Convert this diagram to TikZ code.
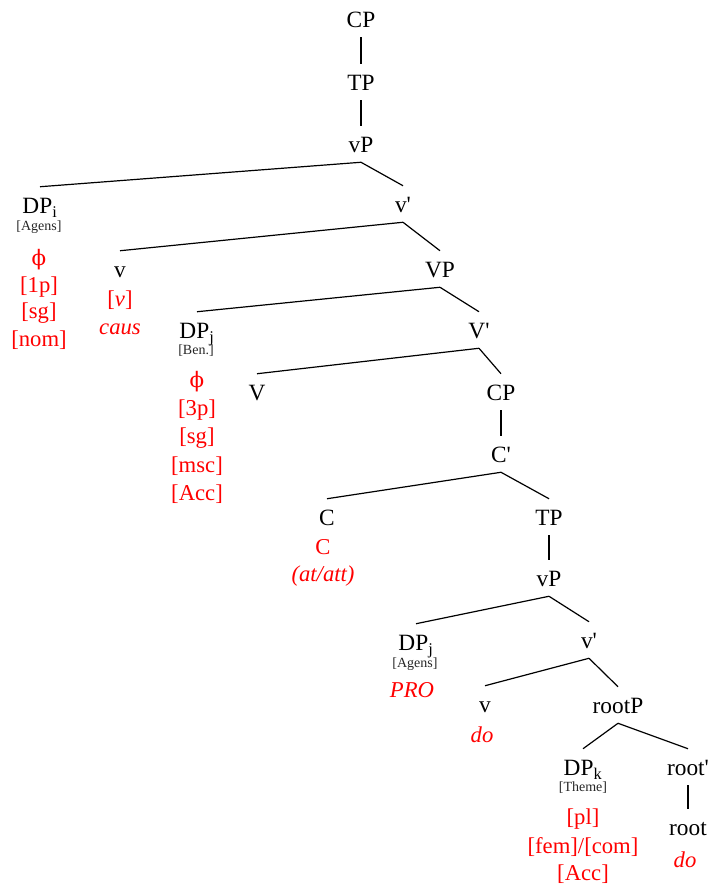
\documentclass[tikz,border=0pt]{standalone}
\usepackage{fontspec}
\setmainfont{Liberation Serif}
\newfontfamily\phifont{DejaVu Serif}
\usepackage{tikz}
\usetikzlibrary{positioning}
\tikzstyle{cat}=[anchor=base,inner xsep=1pt,inner ysep=3pt,text height=16.5pt,text depth=4.5pt,font=\fontsize{17.5}{20}\selectfont]
\tikzstyle{role}=[inner sep=0pt,text=black!85,font=\fontsize{10.5}{12}\selectfont]
\tikzstyle{feat}=[inner sep=0pt,text=red,font=\fontsize{17}{20}\selectfont]
\tikzstyle{branch}=[draw,line width=0.9pt]
\newcommand{\ph}{{\phifont\fontsize{16}{18}\selectfont ϕ}}
\newcommand{\pr}{\textquotesingle}
\newcommand{\lowsub}[1]{\raisebox{-0.5pt}{\textsubscript{#1}}}

\begin{document}
\begin{tikzpicture}[x=0.75pt,y=-0.75pt]

 \useasboundingbox (0,0) rectangle (707,885);

 %spine
   \foreach \x/\y/\name/\label in {361/27/CPa/CP, 361/90/TPa/TP, 361/152/vPa/vP}
          \node[cat] (\name) at (\x,\y) {\label};

 %upper vP
   \foreach \x/\y/\name/\label in {40/213/DPi/{DP\lowsub{i}}, 403/212/vbara/{v\pr},
                                  120/277/va/v, 440/277/VP/VP,
                                  197/338/DPj/{DP\lowsub{j}}, 479/338/Vbar/{V\pr},
                                  257/400/V/V, 501/400/CPb/CP, 501/462/Cbar/{C\pr}}
          \node[cat] (\name) at (\x,\y) {\label};

 %embedded clause
   \foreach \x/\y/\name/\label in {327/525/C/C, 549/525/TPb/TP, 549/586/vPb/vP,
                                  416/650/DPjb/{DP\lowsub{j}}, 589/648/vbarb/{v\pr},
                                  485/712/vb/v, 618/713/rootP/rootP,
                                  583/775/DPk/{DP\lowsub{k}}, 688/775/rootbar/{root\pr},
                                  688/835/root/root}
          \node[cat] (\name) at (\x,\y) {\label};

 %theta roles
   \foreach \x/\y/\name/\label in {39/227/rAg/{[Agens]}, 196/351/rBen/{[Ben.]},
                                  415/664/rAgb/{[Agens]}, 583/788/rTh/{[Theme]}}
          \node[role] (\name) at (\x,\y) {\label};

 %features
   \foreach \x/\y/\name/\label in {39/260/fa/\ph, 39/287/fb/{[1p]}, 39/313/fc/{[sg]}, 39/340/fd/{[nom]},
                                  120/300/fe/{[\textit{v}]}, 120/329/ff/{\textit{caus}},
                                  197/382/fg/\ph, 197/410/fh/{[3p]}, 197/438/fi/{[sg]},
                                  197/466/fj/{[msc]}, 197/494/fk/{[Acc]},
                                  323/547/fl/C, 323/576/fm/{\textit{(at/att)}},
                                  412/690/fn/{\textit{PRO}}, 482/735/fo/{\textit{do}},
                                  583/819/fp/{[pl]}, 583/847/fq/{[fem]/[com]}, 583/874/fr/{[Acc]},
                                  685/860/fs/{\textit{do}}}
          \node[feat] (\name) at (\x,\y) {\label};

 %branches
  \foreach \source/ \dest in {CPa/TPa, TPa/vPa, vPa/DPi, vPa/vbara, vbara/va, vbara/VP,
                              VP/DPj, VP/Vbar, Vbar/V, Vbar/CPb, CPb/Cbar, Cbar/C, Cbar/TPb}
         \path[branch] (\source.south) -- (\dest.north);

  \foreach \source/ \dest in {TPb/vPb, vPb/DPjb, vPb/vbarb, vbarb/vb, vbarb/rootP,
                              rootP/DPk, rootP/rootbar, rootbar/root}
         \path[branch] (\source.south) -- (\dest.north);

\end{tikzpicture}
\end{document}
